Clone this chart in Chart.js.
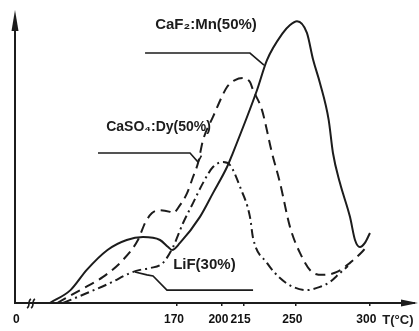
<!DOCTYPE html>
<html>
<head>
<meta charset="utf-8">
<script src="https://cdn.jsdelivr.net/npm/chart.js@4"></script>
<style>
html,body{margin:0;padding:0;background:#fff;}
canvas{display:block;}
</style>
</head>
<body>
<canvas id="c" width="419" height="331"></canvas>
<script>
// ---- data (temperature in °C, relative TL intensity) ----
const tCaF2 = [84,98,109,123,136,147,158.5,164,166.6,172,185.5,194.3,203.8,207.2,224.1,230.8,241.6,246.4,251.1,257.8,262,266.6,272.5,275.4,280.1,286.9,290.3,293.6,297,300.4];
const iCaF2 = [0,4.4,11.3,18.1,21.5,22.5,21.5,19.1,18.1,20.5,29.4,37.5,46.4,50.5,72.7,82.9,92.2,94.9,96.2,92.2,83.0,75.1,62.5,51.2,41.0,29.4,21.5,19.1,20.5,23.9];

const tCaSO4 = [89,104.5,120,133.5,143.6,148.4,153.1,158.5,165.3,167.3,172,176.8,180.8,184.2,187.6,194.3,203.8,209.2,214.6,219.3,221.4,227.4,234.2,239.6,246.4,253.1,261.2,268.6,278.1,286.9,295,299];
const iCaSO4 = [0,4.4,8.9,14.7,21.5,27.3,30.7,31.7,31.1,30.7,33.4,37.5,43.0,47.8,55.6,63.5,73.7,76.1,76.8,75.4,72.7,65.9,51.2,41.0,25.9,17.1,10.6,9.6,10.6,13.7,17.4,19.8];

const tLiF = [93,109.2,124.7,138.2,145,151.8,160.5,167.3,174.1,180.8,187.6,194.3,201.1,205.8,212.6,219.3,221.4,230.8,239.6,248.4,257.8,266.6,273.4,280.1,285.5];
const iLiF = [0,3.4,6.8,10.2,11.3,11.9,13.7,19.1,27.3,34.1,41.0,46.4,48.1,47.1,39.6,29.4,22.2,13.7,8.5,5.5,4.4,5.5,7.2,10.2,12.6];

const seriesNames = ['CaF₂:Mn(50%)', 'CaSO₄:Dy(50%)', 'LiF(30%)'];
// first tick marks the broken-axis origin ("0")
const tickValues = [63.5, 170, 200, 215, 250, 300];
const tickLabels = ['0', '170', '200', '215', '250', '300'];
const axisTitle = 'T(°C)';

// ---- annotation placement (data coordinates) and sizes ----
const labelPos = [
  {x: 189.6, y: 94.9, size: 15},
  {x: 157.5, y: 59.9, size: 14},
  {x: 188.5, y: 13.0, size: 15}
];
const leaders = [
  [[148.4,85.3],[219.3,85.3],[228.8,81.2]],
  [[116.6,51.2],[178.8,51.2],[184.2,48.1],[186.5,50.3]],
  [[141.6,10.6],[149.7,9.6],[153.8,9.2],[163.2,4.4],[221.4,4.4]]
];

const INK = '#1c1c1c';
const FONT = '"Liberation Sans", Arial, sans-serif';
const pts = (xs, ys) => xs.map((x, i) => ({x, y: ys[i]}));

const datasets = [
  {data: pts(tCaF2, iCaF2), borderColor: INK, borderWidth: 2, pointRadius: 0, cubicInterpolationMode: 'monotone', fill: false},
  {data: pts(tCaSO4, iCaSO4), borderColor: INK, borderWidth: 2, borderDash: [10, 6], pointRadius: 0, cubicInterpolationMode: 'monotone', fill: false},
  {data: pts(tLiF, iLiF), borderColor: INK, borderWidth: 2, borderDash: [9, 4, 2, 4], pointRadius: 0, cubicInterpolationMode: 'monotone', fill: false}
];
leaders.forEach(l => datasets.push({
  data: l.map(p => ({x: p[0], y: p[1]})), borderColor: INK, borderWidth: 1.6, pointRadius: 0, tension: 0, fill: false
}));

const decor = {
  id: 'decor',
  afterDraw(chart) {
    const ctx = chart.ctx, a = chart.chartArea;
    const xs = chart.scales.x, ys = chart.scales.y;
    ctx.save();
    ctx.strokeStyle = INK; ctx.fillStyle = INK; ctx.lineWidth = 2;
    // y axis with arrow
    ctx.beginPath(); ctx.moveTo(a.left, a.bottom); ctx.lineTo(a.left, a.top + 12); ctx.stroke();
    ctx.beginPath(); ctx.moveTo(a.left, a.top); ctx.lineTo(a.left - 3.5, a.top + 21); ctx.lineTo(a.left + 3.5, a.top + 21); ctx.closePath(); ctx.fill();
    // x axis arrow
    ctx.beginPath(); ctx.moveTo(a.right, a.bottom); ctx.lineTo(a.right + 2, a.bottom); ctx.stroke();
    ctx.beginPath(); ctx.moveTo(a.right + 5, a.bottom); ctx.lineTo(a.right - 12, a.bottom - 3.5); ctx.lineTo(a.right - 12, a.bottom + 3.5); ctx.closePath(); ctx.fill();
    // axis break mark
    ctx.lineWidth = 1.6;
    [0, 4].forEach(d => {
      const bx = a.left + 14 + d;
      ctx.beginPath();
      ctx.moveTo(bx - 2, a.bottom + 5);
      ctx.bezierCurveTo(bx + 2, a.bottom + 3, bx - 2, a.bottom - 2, bx + 2, a.bottom - 4);
      ctx.stroke();
    });
    // series labels
    ctx.textAlign = 'center'; ctx.textBaseline = 'middle';
    labelPos.forEach((p, i) => {
      ctx.font = 'bold ' + p.size + 'px ' + FONT;
      ctx.fillText(seriesNames[i], xs.getPixelForValue(p.x), ys.getPixelForValue(p.y));
    });
    // axis title
    ctx.font = 'bold 13px ' + FONT;
    ctx.textAlign = 'left';
    ctx.fillText(axisTitle, xs.getPixelForValue(300) + 13, a.bottom + 17);
    ctx.restore();
  }
};

new Chart(document.getElementById('c'), {
  type: 'line',
  data: {datasets},
  options: {
    responsive: false,
    animation: false,
    layout: {padding: {left: 15, right: 6, top: 10, bottom: 0}},
    plugins: {legend: {display: false}, tooltip: {enabled: false}},
    scales: {
      x: {
        type: 'linear', min: 60.5, max: 329.5,
        afterBuildTicks: s => { s.ticks = tickValues.map(v => ({value: v})); },
        afterFit: s => { s.height = 28; },
        grid: {display: true, drawOnChartArea: false, tickLength: 3, lineWidth: 1.5,
               color: c => (c.index === 0 ? 'rgba(0,0,0,0)' : INK)},
        border: {display: true, color: INK, width: 2},
        ticks: {
          autoSkip: false, maxRotation: 0, padding: 6, color: '#111', labelOffset: -3,
          font: {family: FONT, size: 12, weight: 'bold'},
          callback: (v, i) => tickLabels[i]
        }
      },
      y: {display: false, min: 0, max: 100}
    }
  },
  plugins: [decor]
});
</script>
</body>
</html>
